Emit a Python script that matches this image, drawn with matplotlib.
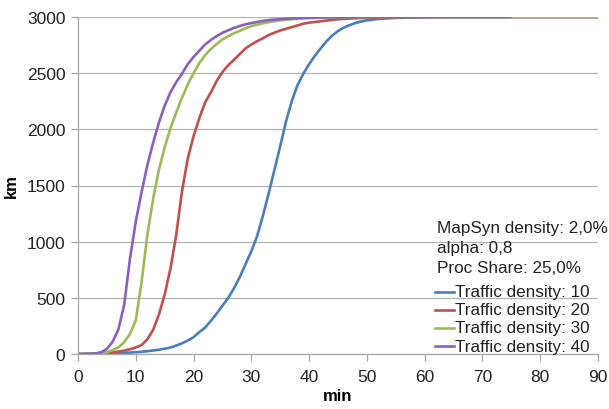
import matplotlib
matplotlib.use('Agg')
import matplotlib.pyplot as plt
from matplotlib.lines import Line2D

plt.rcParams['font.family'] = ['Liberation Sans', 'DejaVu Sans']

# minutes
t = [0, 1, 2, 3, 4, 5, 6, 7, 8, 9, 10, 11, 12, 13, 14, 15, 16, 17, 18, 19, 20,
     21, 22, 23, 24, 25, 26, 27, 28, 29, 30, 31, 32, 33, 34, 35, 36, 37, 38, 39,
     40, 41, 42, 43, 44, 45, 46, 47, 48, 49, 50, 52, 55, 60, 65, 70, 75, 80, 90]

# km travelled, one list per traffic density
km_10 = [0, 0, 1, 2, 3, 5, 7, 9, 11, 13, 16, 20, 25, 31, 38, 47, 58, 75, 95, 120, 150,
         195, 235, 295, 360, 430, 500, 585, 685, 800, 915, 1050, 1230, 1430, 1640, 1850, 2070, 2250, 2395, 2495,
         2580, 2655, 2720, 2783, 2835, 2875, 2905, 2928, 2946, 2960, 2970, 2983, 2992, 2998, 3000, 3000, 3000, 3000, 3000]
km_20 = [0, 0, 1, 3, 5, 8, 15, 22, 30, 42, 58, 80, 130, 215, 350, 530, 760, 1060, 1450, 1740, 1940,
         2100, 2240, 2330, 2430, 2510, 2570, 2620, 2670, 2720, 2755, 2785, 2810, 2840, 2860, 2880, 2895, 2910, 2925, 2940,
         2950, 2956, 2962, 2968, 2974, 2980, 2983, 2986, 2989, 2991, 2992, 2994, 2997, 3000, 3000, 3000, 3000, 3000, 3000]
km_30 = [0, 0, 1, 3, 8, 15, 35, 60, 105, 180, 300, 640, 1060, 1380, 1640, 1840, 2010, 2150, 2280, 2400, 2500,
         2590, 2660, 2715, 2760, 2800, 2830, 2855, 2877, 2900, 2918, 2932, 2944, 2954, 2962, 2970, 2976, 2980, 2984, 2987,
         2990, 2992, 2994, 2995, 2996, 2997, 2998, 2998, 2999, 2999, 2999, 3000, 3000, 3000, 3000, 3000, 3000, 3000, 3000]
km_40 = [0, 0, 2, 5, 15, 45, 110, 220, 440, 850, 1180, 1440, 1680, 1880, 2060, 2210, 2330, 2420, 2495, 2580, 2645,
         2700, 2755, 2795, 2830, 2860, 2882, 2902, 2920, 2935, 2946, 2956, 2965, 2972, 2977, 2981, 2985, 2988, 2990, 2992,
         2994, 2995, 2996, 2997, 2998, 2998, 2999, 2999, 2999, 3000, 3000, 3000, 3000, 3000, 3000, 3000, 3000]
t_40 = t[:len(km_40)]

labels = ['Traffic density: 10', 'Traffic density: 20', 'Traffic density: 30', 'Traffic density: 40']
colors = ['#4A7EBB', '#C0504D', '#9BBB59', '#8B5FBF']
info = ['MapSyn density: 2,0%', 'alpha: 0,8', 'Proc Share: 25,0%']

W, H = 609, 410
fig = plt.figure(figsize=(W / 100, H / 100), dpi=100)
ax = fig.add_axes([78 / W, 1 - 355 / H, 520 / W, 337 / H])

series = [(t, km_10), (t, km_20), (t, km_30), (t_40, km_40)]
for (x, y), lab, c in zip(series, labels, colors):
    ax.plot(x, y, color=c, lw=1.9, label=lab, solid_capstyle='butt')

ax.set_xlim(0, 90)
ax.set_ylim(0, 3000)
ax.set_xticks(range(0, 91, 10))
ax.set_yticks(range(0, 3001, 500))
ax.grid(axis='y', color='#b3b3b3', lw=0.9)
ax.set_axisbelow(True)
for s in ['top', 'right']:
    ax.spines[s].set_visible(False)
for s in ['left', 'bottom']:
    ax.spines[s].set_color('#a6a6a6')
    ax.spines[s].set_linewidth(0.9)
ax.tick_params(axis='both', direction='out', length=5, width=0.9, color='#a6a6a6',
               labelsize=12.5, labelcolor='#222222')
ax.tick_params(axis='x', pad=6)
ax.tick_params(axis='y', pad=4)

ax.set_xlabel('min', fontsize=12, fontweight='bold', labelpad=3)
ax.set_ylabel('km', fontsize=12, fontweight='bold', labelpad=6)

# legend block drawn by hand (tight Excel-like spacing)
fs = 12.3
for i, line in enumerate(info):
    fig.text(437 / W, 1 - (228.5 + 20 * i) / H, line, fontsize=fs, color='#222222',
             ha='left', va='center')
for i, (lab, c) in enumerate(zip(labels, colors)):
    yc = 1 - (292.5 + 18.2 * i) / H
    fig.add_artist(Line2D([435 / W, 454 / W], [yc, yc], color=c, lw=1.9,
                          transform=fig.transFigure))
    fig.text(455 / W, yc, lab, fontsize=fs, color='#222222', ha='left', va='center')

fig.savefig('out.png', dpi=100)
